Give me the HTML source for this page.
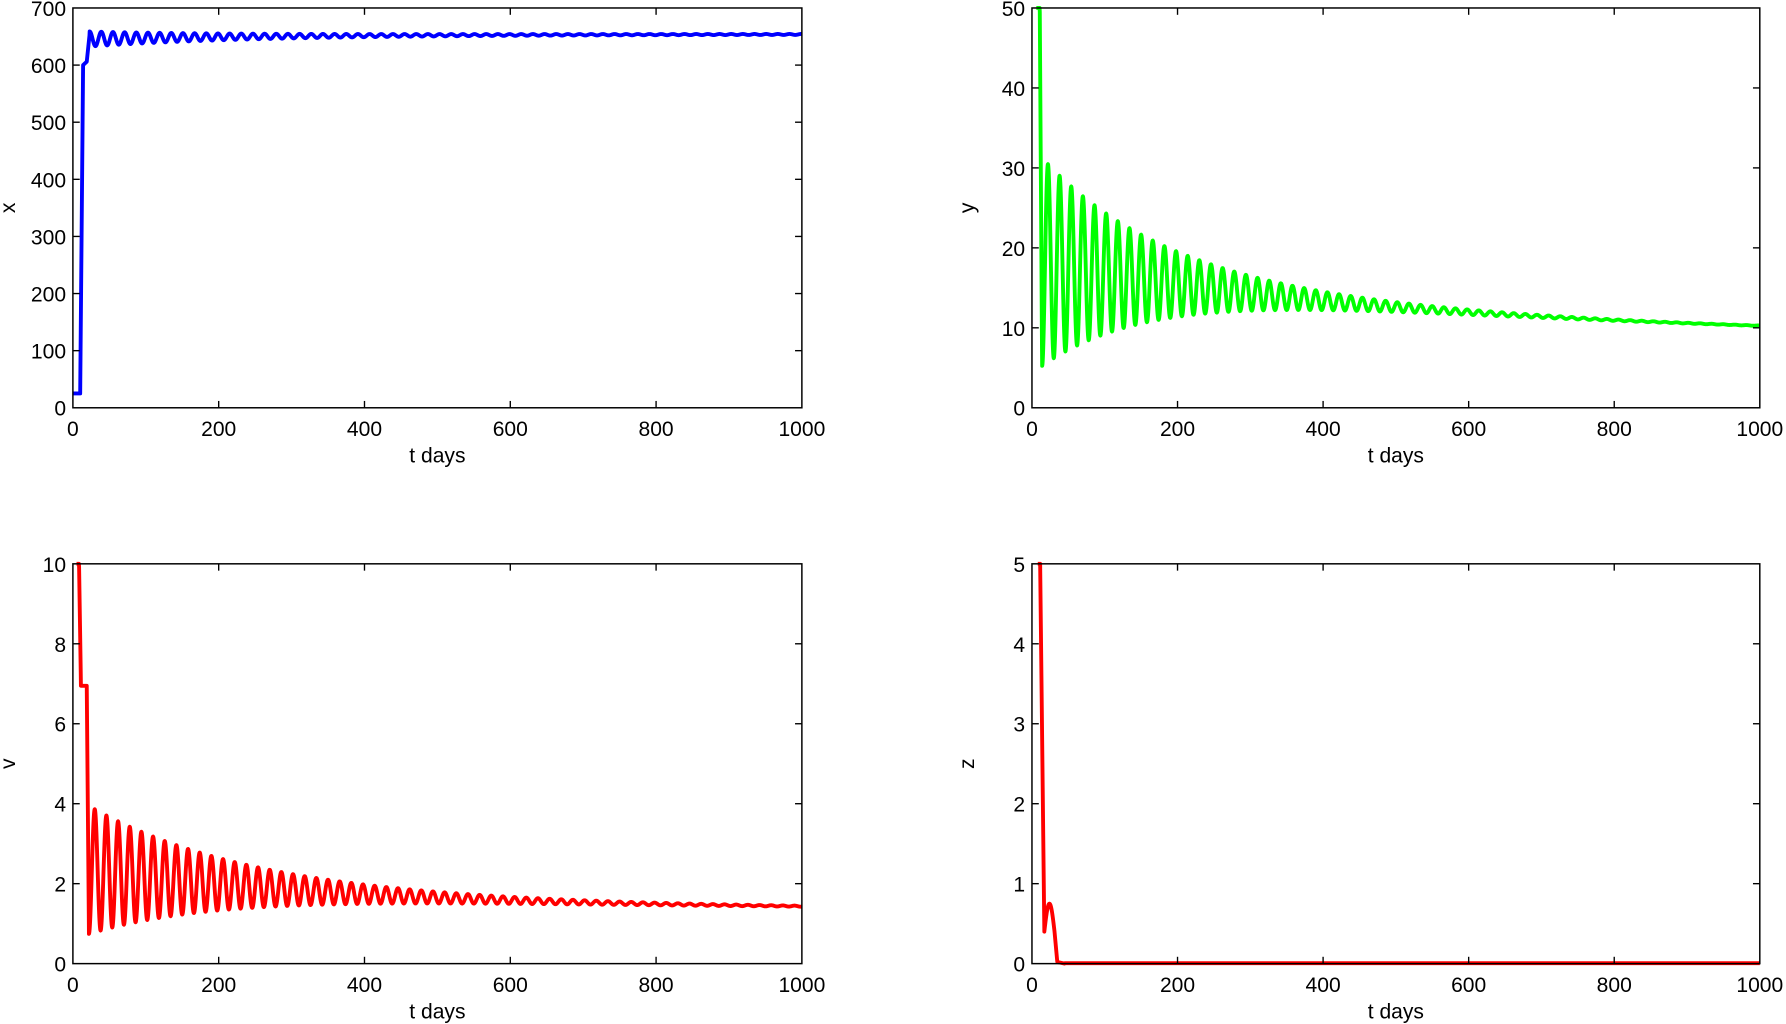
<!DOCTYPE html>
<html><head><meta charset="utf-8"><style>
html,body{margin:0;padding:0;background:#fff;}
svg{display:block;}
text{font-family:"Liberation Sans",Arial,sans-serif;fill:#000;}
</style></head><body>
<svg id="s" width="1786" height="1024" viewBox="0 0 1568 899" xmlns="http://www.w3.org/2000/svg"></svg>
<script>
const S=document.getElementById('s');
const NS='http://www.w3.org/2000/svg';
function el(t,a,txt){const e=document.createElementNS(NS,t);for(const k in a)e.setAttribute(k,a[k]);if(txt!==undefined)e.textContent=txt;S.appendChild(e);return e;}
function panel(L,T,R,B,ymax,ystep,ylab,fn,color,t0){
  const W=R-L,H=B-T;
  const X=t=>L+t/1000*W, Y=v=>B-v/ymax*H;
  let d='';
  for(let t=t0;t<=1000;t+=0.25){const v=Math.max(0,Math.min(ymax,fn(t)));d+=(d?'L':'M')+X(t).toFixed(2)+','+Y(v).toFixed(2);}
  el('path',{d:d,fill:'none',stroke:color,'stroke-width':3.4,'stroke-linejoin':'round'});
  el('rect',{x:L,y:T,width:W,height:H,fill:'none',stroke:'#000','stroke-width':1.3});
  for(let i=0;i<=5;i++){const x=X(i*200);
    if(i>0&&i<5){el('line',{x1:x,y1:B,x2:x,y2:B-6,stroke:'#000','stroke-width':1.2});el('line',{x1:x,y1:T,x2:x,y2:T+6,stroke:'#000','stroke-width':1.2});}
    el('text',{x:x,y:B+25,'font-size':18.5,'text-anchor':'middle'},String(i*200));}
  for(let v=0;v<=ymax+1e-9;v+=ystep){const y=Y(v);
    if(v>0&&v<ymax){el('line',{x1:L,y1:y,x2:L+6,y2:y,stroke:'#000','stroke-width':1.2});el('line',{x1:R,y1:y,x2:R-6,y2:y,stroke:'#000','stroke-width':1.2});}
    el('text',{x:L-6,y:y+7,'font-size':18.5,'text-anchor':'end'},String(v));}
  el('text',{x:(L+R)/2,y:B+48,'font-size':18.5,'text-anchor':'middle'},'t days');
  el('text',{x:0,y:0,'font-size':18.5,'text-anchor':'middle',transform:`translate(${L-51},${(T+B)/2}) rotate(-90)`},ylab);
}
const P=16;
function xf(t){
  if(t<10)return 25;
  if(t<14)return 25+(t-10)/4*575;
  if(t<19)return 600+(t-14)*1.2;
  if(t<23)return 606+(t-19)/4*49;
  const A=12*Math.exp(-(t-23)/200)+1.2*Math.exp(-t/2000);
  const m=645+9*(1-Math.exp(-t/300));
  return m+A*Math.cos(2*Math.PI*(t-23)/P);
}
function yf(t){
  if(t<10)return 60;
  if(t<14)return 60-(t-10)/4*56;
  const m=10+8.5*Math.exp(-t/480)-0.8*t/1000;
  const A=13*Math.exp(-(t-14)/160);
  return m-A*Math.cos(2*Math.PI*(t-14)/P);
}
function vf(t){
  if(t<8)return 10.5;
  if(t<11)return 10.5-(t-8)/3*3.5;
  if(t<19)return 6.95;
  if(t<22)return 6.95-(t-19)/3*6.15;
  const m=1.35+1.05*Math.exp(-t/400);
  const A=1.6*Math.exp(-(t-22)/200);
  return m-A*Math.cos(2*Math.PI*(t-22)/P);
}
function zf(t){
  if(t<10)return 6;
  if(t<17)return 6-(t-10)/7*5.6;
  if(t<35){return 0.4+0.35*Math.sin(Math.PI*(t-17)/14)*(t<31?1:0)+(t>=31?-0.4*(t-31)/4:0);}
  if(t<45)return Math.max(0,0.02*(45-t)/10);
  return 0.005;
}
panel(64,7,704,358,700,100,'x',xf,'#0000ff',0);
panel(906,7,1545,358,50,10,'y',yf,'#00ff00',6);
panel(64,495,704,846,10,2,'v',vf,'#ff0000',5);
panel(906,495,1545,846,5,1,'z',zf,'#ff0000',8);
</script>
</body></html>
